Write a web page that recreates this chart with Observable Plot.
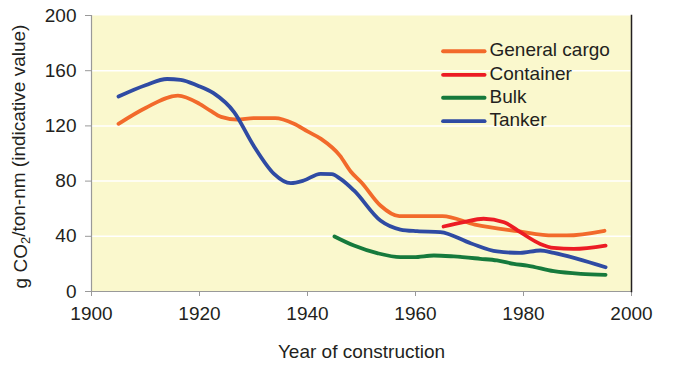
<!DOCTYPE html>
<html>
<head>
<meta charset="utf-8">
<script src="https://cdn.jsdelivr.net/npm/d3@7"></script>
<script src="https://cdn.jsdelivr.net/npm/@observablehq/plot@0.6"></script>
<style>
  html, body { margin: 0; padding: 0; background: #ffffff; }
  #chart { width: 673px; height: 366px; }
</style>
</head>
<body>
<div id="chart"></div>
<script>
// ---- data ----
const seriesNames = ["General cargo", "Container", "Bulk", "Tanker"];
const seriesColors = ["#F26A2B", "#EC1C24", "#167A3C", "#2F4BA3"];

const cargoYears  = [1905, 1910, 1916, 1920, 1922, 1924, 1927, 1930, 1934, 1937.5, 1940, 1942.5, 1946, 1948, 1950, 1953.5, 1957, 1965, 1971, 1979, 1985.5, 1988, 1995];
const cargoValues = [121.5, 133, 142, 136, 131, 126.5, 124.6, 125.6, 125.6, 121.5, 116, 110.6, 98.5, 87, 79, 62.3, 54.6, 54.6, 48.5, 43.7, 40.6, 40.6, 44];

const containerYears  = [1965.2, 1968.9, 1972.6, 1976.4, 1979.4, 1983.1, 1985.6, 1989.3, 1995.2];
const containerValues = [47.1, 50.2, 52.7, 50.2, 43, 34.5, 31.6, 30.9, 33.3];

const bulkYears  = [1945, 1948.6, 1952.9, 1957.2, 1959.7, 1963.4, 1967.1, 1972, 1975.1, 1978.2, 1980.7, 1985.6, 1990.6, 1995.2];
const bulkValues = [39.9, 33.3, 27.8, 24.9, 24.9, 26.1, 25.4, 23.7, 22.5, 20, 18.8, 14.7, 12.8, 12.1];

const tankerYears  = [1905, 1910, 1914, 1916.5, 1919.6, 1922.6, 1926.4, 1930, 1933.8, 1936.9, 1939.3, 1942.4, 1944.5, 1946.1, 1948.6, 1953.5, 1957.2, 1960.3, 1964.6, 1970.2, 1975.1, 1979.4, 1983.1, 1985.6, 1990, 1995.2];
const tankerValues = [141.3, 149.5, 154, 153.4, 149.3, 143.7, 130, 105.8, 85.3, 78.5, 80.4, 85.3, 85, 81.6, 73.2, 51.4, 44.9, 43.7, 43, 35, 29, 28, 29.7, 28, 23.7, 17.6];

const xTicks = [1900, 1920, 1940, 1960, 1980, 2000];
const yTicks = [0, 40, 80, 120, 160, 200];
const xLabel = "Year of construction";
const yLabelParts = ["g CO", "2", "/ton-nm (indicative value)"];

// legend layout (in data space)
const legendRowsY = [174.1, 157, 140.4, 123.4];
const legendX1 = 1965.1, legendX2 = 1972.8, legendTextX = 1973.7;

// ---- build tables ----
const allYears = [cargoYears, containerYears, bulkYears, tankerYears];
const allValues = [cargoValues, containerValues, bulkValues, tankerValues];
const rows = [];
seriesNames.forEach((name, i) => {
  allYears[i].forEach((yr, j) => rows.push({series: name, year: yr, value: allValues[i][j]}));
});
const legend = seriesNames.map((name, i) => ({series: name, y: legendRowsY[i]}));

const FONT = "'Liberation Sans', Arial, sans-serif";
const TEXT = "#231F20";
const FS = 19;

const svg = Plot.plot({
  width: 673,
  height: 366,
  marginLeft: 91,
  marginRight: 42,
  marginTop: 15,
  marginBottom: 75,
  style: {fontFamily: FONT, fontSize: FS + "px", color: TEXT, background: "#ffffff", overflow: "visible"},
  x: {domain: [1900, 2000]},
  y: {domain: [0, 200]},
  color: {domain: seriesNames, range: seriesColors},
  marks: [
    Plot.frame({fill: "#FAF8CD", stroke: null}),
    Plot.gridY(yTicks.filter(d => d > 0 && d < 200), {stroke: "#ffffff", strokeOpacity: 1, strokeWidth: 1.5}),
    // axes
    Plot.axisY(yTicks, {tickSize: 6, tickPadding: 9, stroke: "#999999", fill: TEXT, fontSize: FS, label: null}),
    Plot.axisX(xTicks, {tickSize: 5, tickPadding: 10, stroke: "#999999", fill: TEXT, fontSize: FS, tickFormat: d => String(d), label: null}),
    Plot.frame({anchor: "left", stroke: "#999999", strokeWidth: 1.2}),
    Plot.frame({anchor: "bottom", stroke: "#999999", strokeWidth: 1.2}),
    Plot.frame({anchor: "right", stroke: "#231F20", strokeWidth: 1.5}),
    // series lines
    Plot.line(rows, {x: "year", y: "value", z: "series", stroke: "series", strokeWidth: 3.8, curve: "monotone-x", strokeLinecap: "round", strokeLinejoin: "round"}),
    // legend
    Plot.link(legend, {x1: () => legendX1, x2: () => legendX2, y1: "y", y2: "y", stroke: "series", strokeWidth: 3.8, strokeLinecap: "round"}),
    Plot.text(legend, {x: () => legendTextX, y: "y", text: "series", textAnchor: "start", fill: TEXT, fontSize: FS, dy: -1}),
    // axis titles
    Plot.text([xLabel], {frameAnchor: "bottom", dy: 66, text: d => d, fill: TEXT, fontSize: FS, textAnchor: "middle"}),
    Plot.text([yLabelParts.join("")], {frameAnchor: "left", dx: -71, dy: 3, rotate: -90, text: d => d, fill: TEXT, fontSize: FS, textAnchor: "middle", className: "ylab"})
  ]
});

document.getElementById("chart").appendChild(svg);

// subscript 2 in the y-axis title
const yl = d3.select(svg).select(".ylab text");
if (!yl.empty()) {
  yl.text(null);
  yl.append("tspan").text(yLabelParts[0]);
  yl.append("tspan").attr("dy", "0.3em").attr("font-size", "13px").text(yLabelParts[1]);
  yl.append("tspan").attr("dy", "-0.3em").text(yLabelParts[2]);
}
</script>
</body>
</html>
